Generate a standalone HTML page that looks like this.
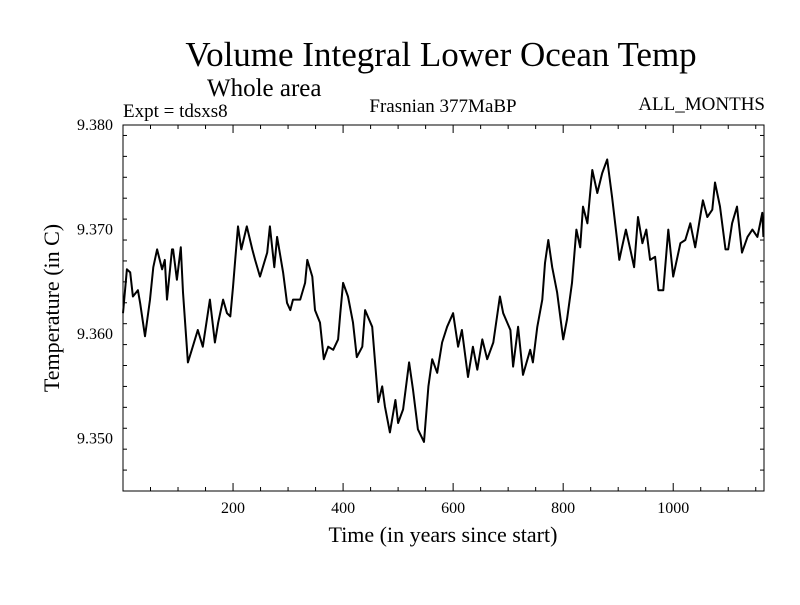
<!DOCTYPE html>
<html><head><meta charset="utf-8"><style>
body{margin:0;background:#fff}
svg text{font-family:"Liberation Serif",serif;fill:#000}
</style></head><body>
<svg width="800" height="600" xmlns="http://www.w3.org/2000/svg">
<text x="441" y="66" font-size="35" text-anchor="middle">Volume Integral Lower Ocean Temp</text>
<text x="207" y="96" font-size="25">Whole area</text>
<text x="123" y="117" font-size="19">Expt = tdsxs8</text>
<text x="443" y="112" font-size="19" text-anchor="middle">Frasnian 377MaBP</text>
<text x="765" y="110" font-size="19" text-anchor="end">ALL_MONTHS</text>
<g id="axes"></g>
<path id="line" fill="none" stroke="#000" stroke-width="2" stroke-linejoin="round"/>
<rect x="123" y="125" width="641" height="366" fill="none" stroke="#000" stroke-width="1"/>
<text x="443" y="542" font-size="22" text-anchor="middle">Time (in years since start)</text>
<text transform="translate(59,308) rotate(-90)" font-size="22" text-anchor="middle">Temperature (in C)</text>
</svg>
<script>
const years=[0,7,13,18,27,31,40,49,55,62,71,76,80,89,91,98,105,109,118,125,136,145,158,167,173,182,189,195,200,204,209,215,225,235,240,249,262,267,275,280,291,298,304,309,322,331,335,344,349,358,365,373,382,391,395,400,409,418,425,435,440,453,464,471,476,485,495,500,509,520,527,536,547,555,562,571,580,589,600,609,616,627,636,644,653,662,673,685,691,704,709,718,727,740,745,753,762,767,773,780,789,800,807,816,824,831,836,844,853,862,871,880,889,898,902,907,914,922,929,936,944,951,958,967,973,982,991,1000,1013,1022,1031,1040,1054,1062,1071,1076,1085,1095,1100,1107,1116,1125,1135,1144,1153,1162,1164];
const temps=[9.3620,9.3662,9.3659,9.3636,9.3642,9.3630,9.3598,9.3633,9.3664,9.3681,9.3662,9.3671,9.3633,9.3681,9.3681,9.3652,9.3683,9.3640,9.3573,9.3585,9.3604,9.3588,9.3633,9.3592,9.3611,9.3633,9.3620,9.3617,9.3645,9.3671,9.3703,9.3681,9.3703,9.3681,9.3671,9.3655,9.3678,9.3703,9.3664,9.3693,9.3659,9.3630,9.3623,9.3633,9.3633,9.3649,9.3671,9.3655,9.3623,9.3611,9.3576,9.3588,9.3585,9.3595,9.3620,9.3649,9.3636,9.3611,9.3578,9.3588,9.3623,9.3607,9.3535,9.3550,9.3531,9.3506,9.3537,9.3515,9.3528,9.3573,9.3547,9.3509,9.3497,9.3550,9.3576,9.3563,9.3592,9.3607,9.3620,9.3588,9.3604,9.3559,9.3588,9.3566,9.3595,9.3576,9.3592,9.3636,9.3620,9.3604,9.3569,9.3607,9.3561,9.3585,9.3573,9.3607,9.3633,9.3668,9.3690,9.3664,9.3640,9.3595,9.3614,9.3649,9.3700,9.3683,9.3722,9.3706,9.3757,9.3735,9.3754,9.3767,9.3731,9.3690,9.3671,9.3683,9.3700,9.3681,9.3664,9.3712,9.3687,9.3700,9.3671,9.3674,9.3642,9.3642,9.3700,9.3655,9.3687,9.3690,9.3706,9.3683,9.3728,9.3712,9.3719,9.3745,9.3722,9.3681,9.3681,9.3706,9.3722,9.3678,9.3693,9.3700,9.3693,9.3716,9.3693];
const xTicks=[200,400,600,800,1000];
const yTicks=[9.350,9.360,9.370,9.380];
const X0=123,X1=764,Y0=125,Y1=491,XMIN=0,XMAX=1165,YMIN=9.345,YMAX=9.380;
const sx=v=>X0+(v-XMIN)/(XMAX-XMIN)*(X1-X0);
const sy=v=>Y1-(v-YMIN)/(YMAX-YMIN)*(Y1-Y0);
const NS="http://www.w3.org/2000/svg";
const g=document.getElementById('axes');
function mk(tag,attrs){const e=document.createElementNS(NS,tag);for(const k in attrs)e.setAttribute(k,attrs[k]);g.appendChild(e);return e;}
for(let v=50;v<XMAX;v+=50){
  const maj=v%200===0,L=maj?8:4,x=sx(v);
  const t1=mk('line',{x1:x,x2:x,y1:Y1,y2:Y1-L,stroke:'#000'});
  
  
  const t2=mk('line',{x1:x,x2:x,y1:Y0,y2:Y0+L,stroke:'#000'});
  
  
}
xTicks.forEach(v=>{
  const t=mk('text',{x:sx(v),y:513,'font-size':16,'text-anchor':'middle'});
  t.textContent=v;
  
  
});
for(let i=0;i<=17;i++){
  const v=YMIN+i*0.002;const maj=Math.abs((v-9.35)/0.01-Math.round((v-9.35)/0.01))<1e-6;
  const L=maj?8:4,y=sy(v);
  const t1=mk('line',{x1:X0,x2:X0+L,y1:y,y2:y,stroke:'#000'});
  
  
  const t2=mk('line',{x1:X1,x2:X1-L,y1:y,y2:y,stroke:'#000'});
  
  
}
yTicks.forEach(v=>{
  const t=mk('text',{x:113,y:sy(v)+5,'font-size':16,'text-anchor':'end'});
  t.textContent=v.toFixed(3);
  
  
});
document.getElementById('line').setAttribute('d',years.map((yr,i)=>(i?'L':'M')+sx(yr).toFixed(1)+','+sy(temps[i]).toFixed(1)).join(''));
</script>
</body></html>
